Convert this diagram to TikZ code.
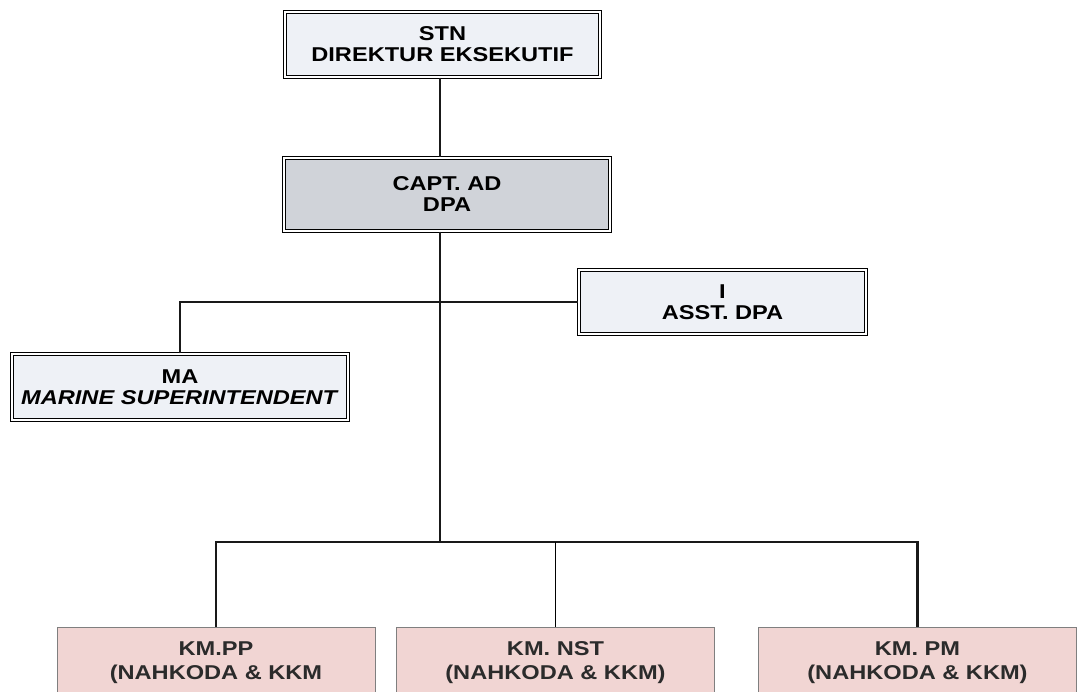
\documentclass[tikz,border=0pt]{standalone}
\usepackage{fontspec}
\setmainfont{Liberation Sans}[FakeStretch=1.18]
\usepackage{xcolor}
\usepackage{tikz}
\usetikzlibrary{positioning, calc}
\definecolor{boxgrey}{HTML}{EEF1F6}
\definecolor{boxdark}{HTML}{D0D3D9}
\definecolor{shipfill}{HTML}{F1D5D3}
\definecolor{shipline}{HTML}{7F7F7F}
\definecolor{shiptext}{HTML}{2B2B2B}

\begin{document}
\begin{tikzpicture}[
    x=1pt, y=-1pt,
    office/.style={draw=black, line width=1.2pt, double=white, double distance=1.6pt, fill=#1, inner sep=0pt, align=center, font=\fontsize{20}{21}\selectfont\bfseries},
    ship/.style={draw=shipline, line width=0.8pt, fill=shipfill, text=shiptext, minimum width=318pt, minimum height=72pt, inner sep=0pt, align=center, font=\fontsize{20}{24}\selectfont\bfseries},
    link/.style={line width=2.7pt, draw=black!90},
]
\clip (0,0) rectangle (1082,692);
\fill[white] (0,0) rectangle (1082,692);

\node[office=boxgrey, minimum width=315pt, minimum height=65pt] (stn) at (442.5,44.5) {STN\\DIREKTUR EKSEKUTIF};
\node[office=boxdark, minimum width=326pt, minimum height=73pt] (capt) at (447,194.5) {CAPT. AD\\DPA};
\node[office=boxgrey, minimum width=287pt, minimum height=64pt] (asst) at (722.5,302) {I\\ASST. DPA};
\node[office=boxgrey, minimum width=336pt, minimum height=66pt] (ma) at (180,387) {MA\\\textit{MARINE SUPERINTENDENT}};

\node[ship] (pp) at (216,663) {KM.PP\\(NAHKODA \& KKM};
\node[ship] (nst) at (555.5,663) {KM. NST\\(NAHKODA \& KKM)};
\node[ship] (pm) at (917.5,663) {KM. PM\\(NAHKODA \& KKM)};

\coordinate (bus) at (440,542);

% Connectors
\draw[link] (stn.south -| bus) -- (capt.north -| bus);
\draw[link] (capt.south -| bus) -- (bus);
\draw[link] (ma.north) |- (asst.west);
\draw[link] (pp.north) |- (bus) -| (pm.north);
\draw[line width=1.3pt] (bus -| nst.north) -- (nst.north);

\end{tikzpicture}
\end{document}
